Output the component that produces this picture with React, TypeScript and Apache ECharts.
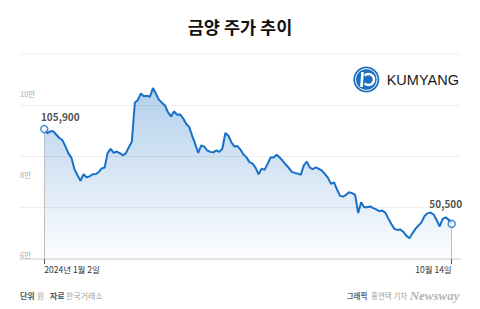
import React, { useEffect, useRef } from 'react';
import * as echarts from 'echarts';

const title = '금양 주가 추이';
const xTickLabels = ['2024년 1월 2일', '10월 14일'];
const yTickValues = [100000, 80000, 60000];
const yTickLabels = ['10만', '8만', '6만'];
const gridValues = [30000, 60000, 90000, 120000];
// closing prices, 2024-01-02 .. 2024-10-14
const prices = [
  105900, 103600, 104600, 104600, 102600, 100700, 99500, 95800, 91700, 89100,
  82400, 78900, 75700, 79500, 77800, 78300, 79500, 79600, 80700, 82900,
  83500, 92000, 94400, 92000, 92800, 91900, 90600, 91700, 95300, 98500,
  121300, 123000, 126700, 125100, 125400, 124800, 129900, 126600, 123000, 121300,
  119700, 115700, 113300, 116300, 114300, 114500, 112200, 109000, 107200, 102000,
  97300, 92000, 96400, 95700, 93400, 92600, 92300, 93500, 92600, 94400,
  103600, 102000, 98200, 95700, 96000, 93900, 91100, 89400, 86600, 85700,
  83400, 79500, 82800, 82100, 85600, 89400, 89300, 90900, 89300, 87400,
  85200, 83300, 80900, 80300, 79900, 79200, 84700, 86900, 83400, 82500,
  83600, 82700, 81600, 79600, 77400, 73900, 74800, 70600, 66900, 66500,
  67500, 69000, 68500, 67500, 56900, 63200, 60300, 60200, 60700, 59700,
  59000, 57900, 58300, 57100, 53700, 50500, 47600, 47000, 47300, 45800,
  43500, 42100, 45000, 47600, 49600, 51400, 55100, 56800, 57100, 56000,
  52800, 49000, 53400, 54300, 53000, 50500,
];
const sourceLabel = ['단위', '원', '자료', '한국거래소'];
const creditLabel = ['그래픽', '홍연택 기자', 'Newsway'];
const logoText = 'KUMYANG';

const FONT = '"Noto Sans CJK KR", "Noto Sans", sans-serif';
const BLUE = '#1670c8';

export default function App() {
  const ref = useRef<HTMLDivElement>(null);
  useEffect(() => {
    const chart = echarts.init(ref.current!, null, { renderer: 'svg' });
    const last = prices.length - 1;
    const yMin = gridValues[0];
    const yMax = 134600;
    const option: any = {
      animation: false,
      backgroundColor: '#ffffff',
      textStyle: { fontFamily: FONT },
      grid: [
        { left: 20, right: 20, top: 80, bottom: 50 },
        { left: 44.3, right: 28.3, top: 80, bottom: 50 },
      ],
      xAxis: [
        {
          type: 'value', gridIndex: 0, min: 0, max: 1,
          axisLine: { show: true, onZero: false, lineStyle: { color: '#e4e4e4', width: 2 } },
          axisTick: { show: false }, axisLabel: { show: false }, splitLine: { show: false },
        },
        {
          type: 'value', gridIndex: 1, min: 0, max: last, interval: last,
          axisLine: { show: false },
          axisTick: { show: true, length: 5, lineStyle: { color: '#555', width: 1 } },
          axisLabel: {
            show: true, margin: 6, fontSize: 8.5, color: '#333', fontFamily: FONT,
            alignMinLabel: 'left', alignMaxLabel: 'right',
            formatter: (v: number) => (v === 0 ? xTickLabels[0] : v === last ? xTickLabels[1] : ''),
          },
          splitLine: { show: false },
        },
      ],
      yAxis: [
        {
          type: 'value', gridIndex: 0, position: 'left', min: yMin, max: yMax, interval: 30000,
          axisLine: { show: false }, axisTick: { show: false }, axisLabel: { show: false },
          splitLine: { show: true, showMinLine: false, showMaxLine: false, lineStyle: { color: '#eeeeee', width: 1 } },
        },
        {
          type: 'value', gridIndex: 0, position: 'left', min: 59006, max: 103470,
          axisLine: { show: false }, axisTick: { show: false }, splitLine: { show: false },
          axisLabel: {
            show: true, inside: true, margin: 0, customValues: yTickValues,
            fontSize: 7.5, color: '#aaaaaa', fontFamily: FONT,
            formatter: (v: number) => {
              const k = yTickValues.indexOf(v);
              return k >= 0 ? yTickLabels[k] : '';
            },
          },
        },
        {
          type: 'value', gridIndex: 1, min: yMin, max: yMax, show: false,
          splitLine: { show: false },
        },
      ],
      series: [
        {
          type: 'line', xAxisIndex: 1, yAxisIndex: 2,
          data: prices.map((v, i) => [i, v]),
          symbol: 'none',
          lineStyle: { color: BLUE, width: 2 },
          areaStyle: {
            color: new echarts.graphic.LinearGradient(0, 0, 0, 1, [
              { offset: 0, color: 'rgba(40,120,200,0.5)' },
              { offset: 1, color: 'rgba(40,120,200,0.02)' },
            ]),
          },
          markLine: {
            silent: true, symbol: ['none', 'none'], label: { show: false },
            lineStyle: { color: '#bdbdbd', width: 1, type: 'solid' },
            data: [
              [{ coord: [0, prices[0]] }, { coord: [0, yMin] }],
              [{ coord: [last, prices[last]] }, { coord: [last, yMin] }],
            ],
          },
          z: 3,
        },
        {
          type: 'scatter', xAxisIndex: 1, yAxisIndex: 2,
          symbol: 'circle', symbolSize: 7,
          itemStyle: { color: '#ffffff', borderColor: BLUE, borderWidth: 1.5 },
          label: {
            show: true, position: 'top', distance: 3, fontSize: 10, fontWeight: 'bold', color: '#222',
            fontFamily: FONT,
            formatter: (p: any) => Number(p.value[1]).toLocaleString('en-US'),
          },
          data: [
            { value: [0, prices[0]], label: { offset: [16, 0] } },
            { value: [last, prices[last]], label: { offset: [-6, -8] } },
          ],
          z: 5,
        },
      ],
      graphic: [
        {
          type: 'text', x: 240, y: 26,
          style: { text: title, fontSize: 17.5, fontWeight: 'bold', fill: '#111', textAlign: 'center', textVerticalAlign: 'middle', fontFamily: FONT },
        },
        { type: 'line', shape: { x1: 20, y1: 54, x2: 460, y2: 54 }, style: { stroke: '#f0f0f0', lineWidth: 1 } },
        // logo
        { type: 'circle', shape: { cx: 366.3, cy: 79.5, r: 13 }, style: { fill: '#1f6fc1' } },
        { type: 'circle', shape: { cx: 366.3, cy: 79.5, r: 10.8 }, style: { fill: 'none', stroke: '#ffffff', lineWidth: 1 } },
        { type: 'arc', shape: { cx: 368.5, cy: 79.5, r: 5.5, startAngle: -Math.PI * 0.75, endAngle: Math.PI * 0.75 }, style: { stroke: '#ffffff', lineWidth: 2.6, fill: 'none' } },
        { type: 'line', shape: { x1: 362.5, y1: 72, x2: 361.5, y2: 87 }, style: { stroke: '#ffffff', lineWidth: 2.6 } },
        {
          type: 'text', x: 386.7, y: 80,
          style: { text: logoText, fontSize: 14.5, fill: '#1a1a1a', textVerticalAlign: 'middle', fontFamily: '"Liberation Sans", Arial, sans-serif' },
        },
        // footer left
        { type: 'text', x: 20, y: 295, style: { text: sourceLabel[0], fontSize: 8, fontWeight: 'bold', fill: '#555', textVerticalAlign: 'middle', fontFamily: FONT } },
        { type: 'text', x: 36.7, y: 295, style: { text: sourceLabel[1], fontSize: 8, fill: '#a0a0a0', textVerticalAlign: 'middle', fontFamily: FONT } },
        { type: 'text', x: 50, y: 295, style: { text: sourceLabel[2], fontSize: 8, fontWeight: 'bold', fill: '#555', textVerticalAlign: 'middle', fontFamily: FONT } },
        { type: 'text', x: 66, y: 295, style: { text: sourceLabel[3], fontSize: 8, fill: '#a0a0a0', textVerticalAlign: 'middle', fontFamily: FONT } },
        // footer right
        { type: 'text', x: 346.7, y: 295, style: { text: creditLabel[0], fontSize: 7.5, fontWeight: 'bold', fill: '#666', textVerticalAlign: 'middle', fontFamily: FONT } },
        { type: 'text', x: 371, y: 295, style: { text: creditLabel[1], fontSize: 7.5, fill: '#a0a0a0', textVerticalAlign: 'middle', fontFamily: FONT } },
        {
          type: 'text', x: 459.5, y: 295,
          style: { text: creditLabel[2], fontSize: 13, fontWeight: 'bold', fontStyle: 'italic', fill: '#b5b5b5', textAlign: 'right', textVerticalAlign: 'middle', fontFamily: '"Liberation Serif", serif' },
        },
      ],
    };
    chart.setOption(option);
    return () => chart.dispose();
  }, []);
  return <div ref={ref} style={{ position: 'absolute', left: 0, top: 0, width: 480, height: 309, background: '#fff' }} />;
}
